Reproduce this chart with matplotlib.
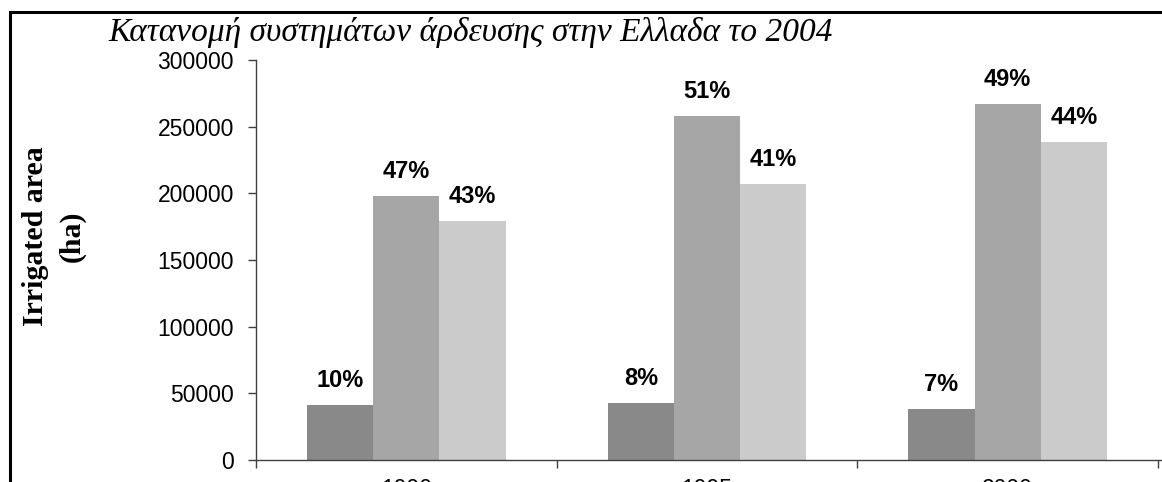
import matplotlib
matplotlib.use("Agg")
import matplotlib.pyplot as plt
import numpy as np
from matplotlib.patches import Rectangle

years = ["1990", "1995", "2000"]
series_a = [41000, 43000, 38000]      # dark
series_b = [198000, 258000, 267000]   # mid
series_c = [179000, 207000, 238500]   # light
pct_a = ["10%", "8%", "7%"]
pct_b = ["47%", "51%", "49%"]
pct_c = ["43%", "41%", "44%"]
yticks = [0, 50000, 100000, 150000, 200000, 250000, 300000]

colors = ["#898989", "#a6a6a6", "#cbcbcb"]

W, H = 1162, 482
fig = plt.figure(figsize=(W / 100, H / 100), dpi=100)
fig.patch.set_facecolor("white")

# outer chart-area frame (extends beyond right and bottom edges)
fig.patches.append(Rectangle((9.5 / W, -0.2), 1.2, 1 - 11.5 / H + 0.2,
                             transform=fig.transFigure, fill=False,
                             edgecolor="black", linewidth=2.2, zorder=10))

ax = fig.add_axes([256 / W, 22 / H, 902 / W, 400 / H])
x = np.arange(len(years))
bw = 0.22
for i, (vals, pcts) in enumerate([(series_a, pct_a), (series_b, pct_b), (series_c, pct_c)]):
    xs = x + (i - 1) * bw
    ax.bar(xs, vals, width=bw, color=colors[i], edgecolor="none", zorder=2)
    for xx, v, p in zip(xs, vals, pcts):
        ax.annotate(p, (xx, v), xytext=(0, 13), textcoords="offset pixels",
                    ha="center", va="bottom", fontsize=17, fontweight="bold",
                    family="Liberation Sans", color="black")

ax.set_xlim(-0.5, 2.5)
ax.set_ylim(0, 300000)
ax.set_yticks(yticks)
ax.set_yticklabels([str(t) for t in yticks], family="Liberation Sans", fontsize=16.5)
ax.tick_params(axis="y", direction="out", length=6, width=1, pad=10, colors="#404040", labelcolor="black")

ax.set_xticks([-0.5, 0.5, 1.5, 2.5])
ax.set_xticklabels([])
ax.tick_params(axis="x", which="major", direction="out", length=6, width=1, colors="#404040")
ax.set_xticks(x, minor=True)
ax.set_xticklabels(years, minor=True, family="Liberation Sans", fontsize=16.5)
ax.tick_params(axis="x", which="minor", length=0, pad=13, labelcolor="black")

for s in ["top", "right"]:
    ax.spines[s].set_visible(False)
for s in ["left", "bottom"]:
    ax.spines[s].set_color("#404040")
    ax.spines[s].set_linewidth(1)
ax.spines["bottom"].set_bounds(-0.5, 2.52)

ax.set_ylabel("Irrigated area\n(ha)", family="Liberation Serif", fontweight="bold",
              fontsize=21.5, linespacing=1.45)
ax.yaxis.set_label_coords((86 - 256) / 902, 0.56)

fig.text(108 / W, 1 - 41 / H, "Κατανομή συστημάτων άρδευσης στην Ελλαδα το 2004",
         family="Liberation Serif", style="italic", fontsize=24, ha="left", va="baseline")

fig.savefig("out.png", dpi=100, facecolor="white")
